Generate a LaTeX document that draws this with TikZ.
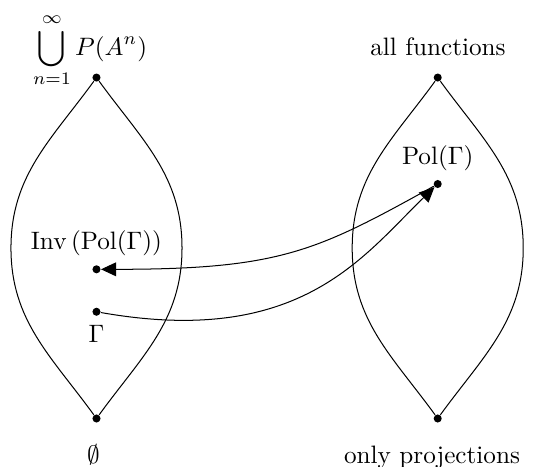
\documentclass[tikz,border=0pt]{standalone}
\usepackage{amsmath,amssymb}
\usetikzlibrary{arrows.meta,positioning,calc}

\begin{document}
\begin{tikzpicture}[dot/.style={circle,fill,inner sep=0pt,minimum size=3.2pt},
    arr/.style={-{Triangle[length=6pt,width=5.5pt]}}]
  \useasboundingbox (0,0) rectangle (7.505,6.501);
  % end points of the two lattices
  \node[dot] (ltop) at (1.346,5.419) {};
  \node[dot] (lbot) at (1.346,0.663) {};
  \node[dot] (rtop) at (6.106,5.419) {};
  \node[dot] (rbot) at (6.106,0.663) {};
  \foreach \t/\b in {ltop/lbot,rtop/rbot}{
    \draw (\t) to[out=-126,in=90] ($(\t)!0.5!(\b)+(-1.193,0)$)
               to[out=-90,in=126] (\b);
    \draw (\t) to[out=-54,in=90] ($(\t)!0.5!(\b)+(1.193,0)$)
               to[out=-90,in=54] (\b);
  }
  % labels at the ends
  \node[anchor=base] (unionlbl) at (1.256,5.733)
    {$\displaystyle\bigcup_{n=1}^{\infty} P(A^n)$};
  \node[anchor=base] (alllbl) at (6.11,5.733) {all functions};
  \node[anchor=base] (emptylbl) at (1.304,0.035) {$\emptyset$};
  \node[anchor=base] (projlbl) at (6.027,0.035) {only projections};
  % the Galois connection
  \node[dot,label=above:{$\operatorname{Inv}\left(\operatorname{Pol}(\Gamma)\right)$}]
    (inv) at (1.346,2.744) {};
  \node[dot,label=below:{$\Gamma$}] (gam) at (1.346,2.152) {};
  \node[dot,label=above:{$\operatorname{Pol}(\Gamma)$}] (pol) at (6.106,3.934) {};
  \draw[arr] (gam) to[out=-10,in=-136,out looseness=1.45,in looseness=0.72] (pol);
  \draw[arr] (pol) to[out=-151,in=0,in looseness=1.34] (inv);
\end{tikzpicture}
\end{document}
